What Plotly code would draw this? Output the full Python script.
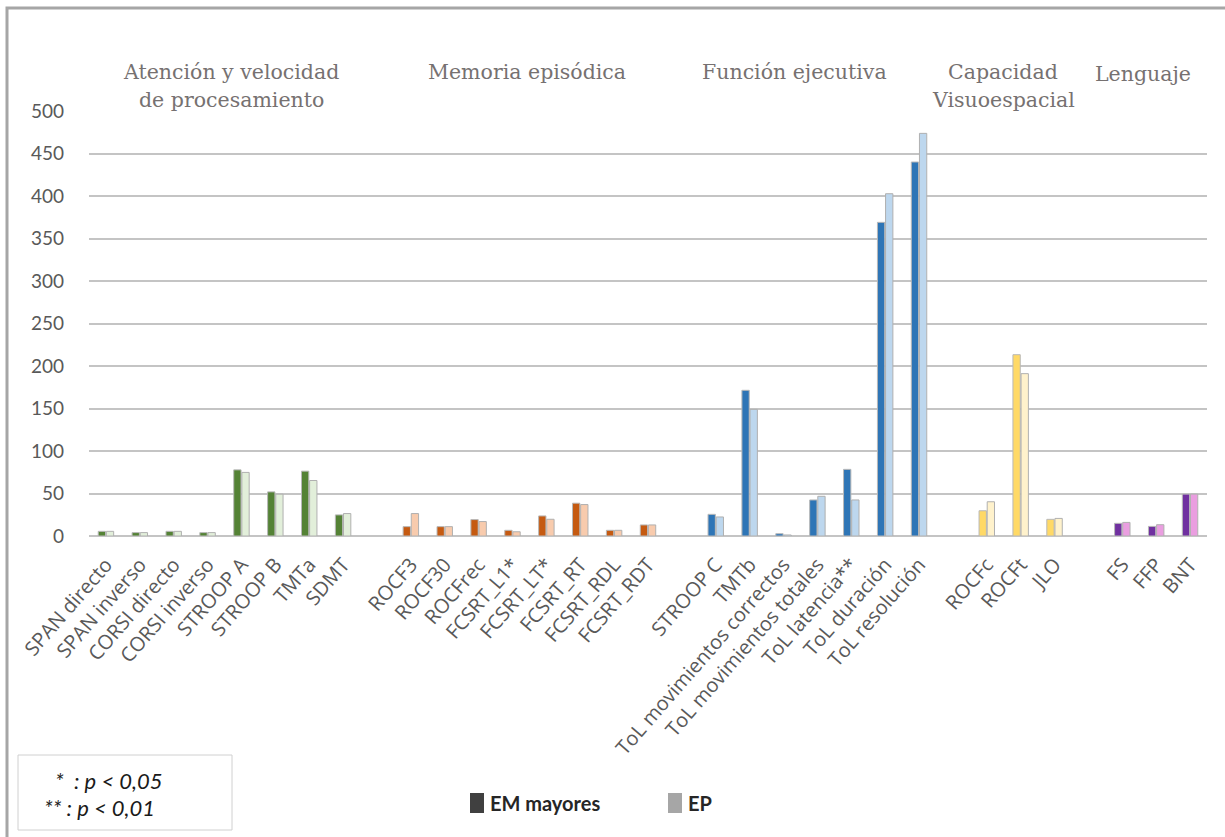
import plotly.graph_objects as go

# ---- data -------------------------------------------------------------
group_titles = [
    ["Atención y velocidad", "de procesamiento"],
    ["Memoria episódica"],
    ["Función ejecutiva"],
    ["Capacidad", "Visuoespacial"],
    ["Lenguaje"],
]

attn_tests = ["SPAN directo", "SPAN inverso", "CORSI directo", "CORSI inverso",
              "STROOP A", "STROOP B", "TMTa", "SDMT"]
attn_em = [5.5, 4, 5.5, 4, 77.8, 51.9, 76.3, 24.8]
attn_ep = [5.5, 4, 5.5, 4, 74.8, 49.2, 65.3, 26.4]

mem_tests = ["ROCF3", "ROCF30", "ROCFrec", "FCSRT_L1*", "FCSRT_LT*",
             "FCSRT_RT", "FCSRT_RDL", "FCSRT_RDT"]
mem_em = [11, 11, 19.3, 6.7, 23.6, 38.6, 6.7, 13]
mem_ep = [26.4, 11, 17, 5, 19.7, 37, 6.7, 13]

exec_tests = ["STROOP C", "TMTb", "ToL movimientos correctos",
              "ToL movimientos totales", "ToL latencia**", "ToL duración",
              "ToL resolución"]
exec_em = [25.5, 171.4, 2.7, 42.4, 78.4, 369, 440]
exec_ep = [22.4, 149, 1.2, 46.7, 42.4, 402.7, 473.7]

visuo_tests = ["ROCFc", "ROCFt", "JLO"]
visuo_em = [29.7, 213.3, 19.6]
visuo_ep = [40.3, 191, 20.7]

lang_tests = ["FS", "FFP", "BNT"]
lang_em = [14.9, 11.3, 49.3]
lang_ep = [16, 13.3, 49.3]

series_names = ["EM mayores", "EP"]

# colour pairs per domain (dark = EM mayores, light = EP)
domain_colors = [
    ("#548235", "#E2EFDA"),
    ("#C55A11", "#F8CBAD"),
    ("#2E75B6", "#BDD7EE"),
    ("#FFD966", "#FFF2CC"),
    ("#7030A0", "#EA9EE0"),
]

sections = [
    (attn_tests, attn_em, attn_ep),
    (mem_tests, mem_em, mem_ep),
    (exec_tests, exec_em, exec_ep),
    (visuo_tests, visuo_em, visuo_ep),
    (lang_tests, lang_em, lang_ep),
]

# ---- build category axis with an empty slot between domains ----------
cats, em_vals, ep_vals, em_cols, ep_cols, tick_text = [], [], [], [], [], []
for i, ((tests, em, ep), (dark, light)) in enumerate(zip(sections, domain_colors)):
    if i > 0:
        cats.append(f"sep{i}")
        em_vals.append(None)
        ep_vals.append(None)
        em_cols.append(dark)
        ep_cols.append(light)
        tick_text.append("")
    cats += tests
    em_vals += em
    ep_vals += ep
    em_cols += [dark] * len(tests)
    ep_cols += [light] * len(tests)
    tick_text += tests

W, H = 1225, 837
ML, MR, MT, MB = 89, 18, 111, 301
PW, PH = W - ML - MR, H - MT - MB


def px(xp):
    return (xp - ML) / PW


def py(yp):
    return (H - MB - yp) / PH


fig = go.Figure()
fig.add_trace(go.Bar(
    x=cats, y=em_vals, name=series_names[0],
    marker=dict(color=em_cols, line=dict(color="#b8b8b8", width=1)),
))
fig.add_trace(go.Bar(
    x=cats, y=ep_vals, name=series_names[1],
    marker=dict(color=ep_cols, line=dict(color="#b0b0b0", width=1)),
))

grid = "#c4c4c4"
fig.update_layout(
    width=W, height=H, autosize=False,
    margin=dict(l=ML, r=MR, t=MT, b=MB, pad=0),
    paper_bgcolor="white", plot_bgcolor="white",
    barmode="group", bargap=0.52, bargroupgap=0.1,
    showlegend=False,
    font=dict(family="Open Sans", color="#595959"),
)
fig.update_xaxes(
    type="category", categoryorder="array", categoryarray=cats,
    tickmode="array", tickvals=cats, ticktext=tick_text,
    tickangle=-49, tickfont=dict(family="Open Sans", size=20, color="#595959"),
    ticklabelstandoff=12,
    showgrid=False, showline=False, ticks="", range=[-0.5, len(cats) - 0.5],
)
fig.update_yaxes(
    range=[0, 500], dtick=50, tick0=0,
    showgrid=True, gridcolor=grid, gridwidth=2,
    zeroline=True, zerolinecolor=grid, zerolinewidth=2,
    showline=False, ticks="", ticklabelstandoff=24,
    tickfont=dict(family="Lato", size=19, color="#595959"),
)

# outer frame
fig.add_shape(type="rect", xref="paper", yref="paper",
              x0=px(7), x1=px(1260), y0=py(880), y1=py(8),
              line=dict(color="#a6a6a6", width=3), fillcolor="rgba(0,0,0,0)")

# domain headings (one annotation per line)
head_font = dict(family="DejaVu Serif", size=20.5, color="#767171")
head_pos = [(231, 72), (527, 72), (794, 72), (1003, 72), (1143, 74)]
for lines, (hx, hy) in zip(group_titles, head_pos):
    for k, line in enumerate(lines):
        fig.add_annotation(text=line, xref="paper", yref="paper",
                           x=px(hx), y=py(hy + 28 * k),
                           xanchor="center", yanchor="middle",
                           showarrow=False, font=head_font)

# significance note box
fig.add_shape(type="rect", xref="paper", yref="paper",
              x0=px(18), x1=px(232), y0=py(830), y1=py(755),
              line=dict(color="#d0d0d0", width=1), fillcolor="white")
note_font = dict(family="Lato", size=22, color="#1a1a1a")
fig.add_annotation(text="<i>*  : p &lt; 0,05</i>", xref="paper", yref="paper",
                   x=px(53), y=py(780), xanchor="left", yanchor="middle",
                   showarrow=False, font=note_font)
fig.add_annotation(text="<i>** : p &lt; 0,01</i>", xref="paper", yref="paper",
                   x=px(42), y=py(807), xanchor="left", yanchor="middle",
                   showarrow=False, font=note_font)

# series key
key_font = dict(family="Lato", size=20, color="#262626")
for (kx, col), name in zip([(470, "#404040"), (668, "#a6a6a6")], series_names):
    fig.add_shape(type="rect", xref="paper", yref="paper",
                  x0=px(kx), x1=px(kx + 14), y0=py(813), y1=py(793),
                  line=dict(width=0), fillcolor=col)
    fig.add_annotation(text=f"<b>{name}</b>", xref="paper", yref="paper",
                       x=px(kx + 18), y=py(803), xanchor="left", yanchor="middle",
                       showarrow=False, font=key_font)

fig.write_html("out.html")
